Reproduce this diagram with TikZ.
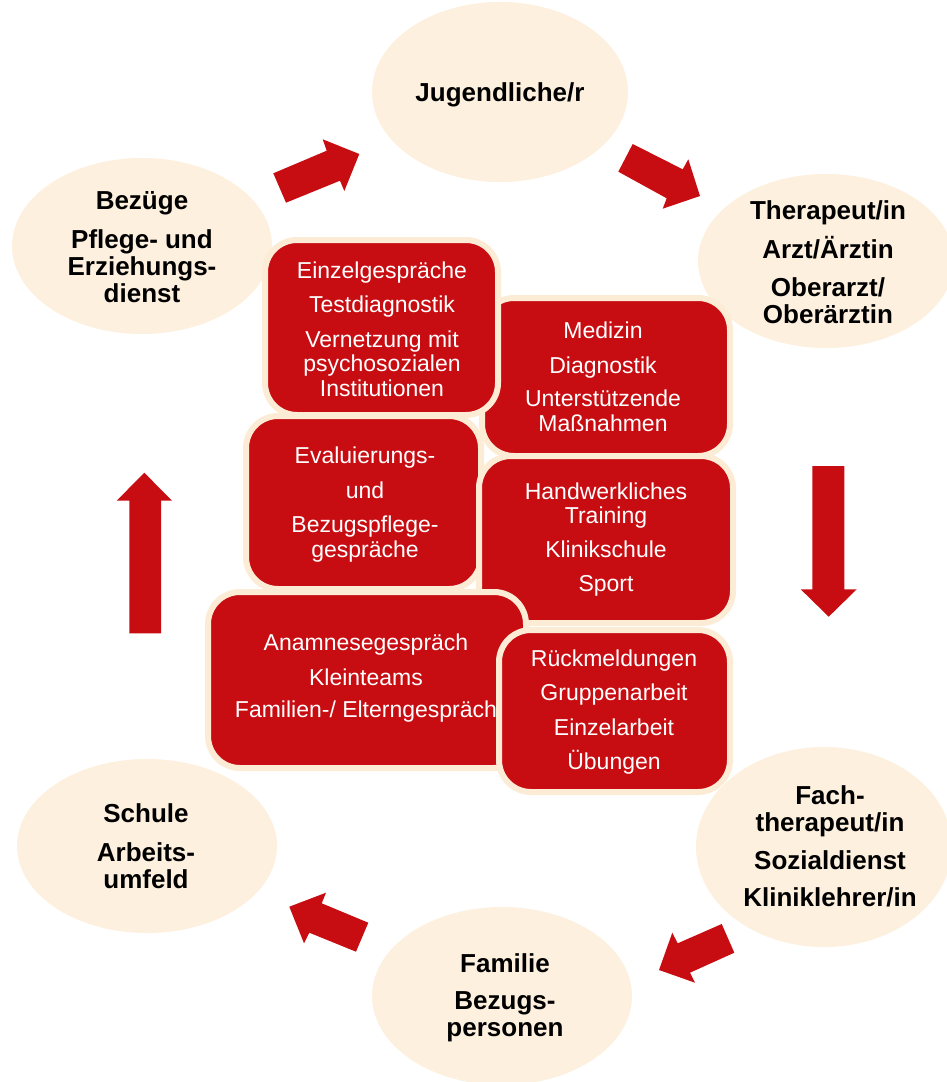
\documentclass[tikz,border=0pt]{standalone}
\usepackage{fontspec}
\setmainfont{Liberation Sans}
\usetikzlibrary{shapes.geometric}
\definecolor{boxred}{RGB}{200,13,18}
\definecolor{cream}{RGB}{253,240,222}
\definecolor{creamedge}{RGB}{252,236,214}
\begin{document}
\begin{tikzpicture}[x=1pt,y=-1pt,
  oval/.style={ellipse, fill=cream, inner sep=0pt},
  ovaltext/.style={align=center, font=\fontsize{26}{27}\selectfont\bfseries, text=black, inner sep=0pt},
  redbox/.style={rectangle, rounded corners=32pt, fill=boxred, draw=creamedge, line width=6pt, inner sep=0pt},
  boxtext/.style={align=center, font=\fontsize{23}{24.5}\selectfont, text=white, inner sep=0pt},
  blockarrow/.style={fill=boxred}]
\useasboundingbox (0,0) rectangle (947,1082);

% ellipses
\node[oval, minimum width=256pt, minimum height=180pt] (jug) at (500,92) {};
\node[oval, minimum width=260pt, minimum height=176pt] (bez) at (142,246) {};
\node[oval, minimum width=256pt, minimum height=174pt] (ther) at (826,261) {};
\node[oval, minimum width=256pt, minimum height=200pt] (fach) at (824,847) {};
\node[oval, minimum width=260pt, minimum height=174pt] (sch) at (147,846) {};
\node[oval, minimum width=260pt, minimum height=178pt] (fam) at (502,996) {};

\node[ovaltext] (jugt) at (500,95) {Jugendliche/r};
\node[ovaltext] (bezt) at (142,247) {Bezüge\\[12pt]Pflege- und\\Erziehungs-\\dienst};
\node[ovaltext] (thert) at (828,262) {Therapeut/in\\[10pt]Arzt/Ärztin\\[11pt]Oberarzt/\\Oberärztin};
\node[ovaltext] (facht) at (830,846) {Fach-\\therapeut/in\\[11pt]Sozialdienst\\[10pt]Kliniklehrer/in};
\node[ovaltext] (scht) at (146,846) {Schule\\[12pt]Arbeits-\\umfeld};
\node[ovaltext] (famt) at (505,998) {Familie\\[10pt]Bezugs-\\personen};

% block arrows
\fill[blockarrow] (273.3,173.3) -- (326.7,150.7) -- (322.7,139.3) -- (359.3,154) -- (344.3,191) -- (340,180.7) -- (286,202.7) -- cycle;
\fill[blockarrow] (632.7,144) -- (682.7,169.3) -- (688.3,159.3) -- (700,196) -- (662.7,208.7) -- (666.7,198.3) -- (618.3,171.7) -- cycle;
\fill[blockarrow] (812.3,466) -- (844.3,466) -- (844.3,589.3) -- (856.7,589.3) -- (828.7,616.7) -- (800.7,589.3) -- (812.3,589.3) -- cycle;
\fill[blockarrow] (721.7,924) -- (734.3,952.7) -- (690,972.7) -- (695,982.7) -- (659,970) -- (672.3,932.7) -- (677.7,943.3) -- cycle;
\fill[blockarrow] (356,951.7) -- (368.3,922.7) -- (321.7,903.3) -- (326,892.7) -- (289.3,906.7) -- (304,943.3) -- (309.3,932.7) -- cycle;
\fill[blockarrow] (129.3,633.3) -- (161,633.3) -- (161,500.7) -- (172,500.7) -- (144.3,472.7) -- (116.7,500.7) -- (129.3,500.7) -- cycle;

% red boxes, back to front
\node[redbox, minimum width=248pt, minimum height=158pt] (med) at (606,377) {};
\node[boxtext] (medt) at (603,377) {Medizin\\[10pt]Diagnostik\\[9pt]Unterstützende\\Maßnahmen};

\node[redbox, minimum width=233pt, minimum height=175pt] (einz) at (381.5,327.5) {};
\node[boxtext] (einzt) at (382,329) {Einzelgespräche\\[10pt]Testdiagnostik\\[10pt]Vernetzung mit\\psychosozialen\\Institutionen};

\node[redbox, minimum width=235pt, minimum height=173pt] (eval) at (363.5,502.5) {};
\node[boxtext] (evalt) at (365,504.5) {Evaluierungs-\\[10pt]und\\[10pt]Bezugspflege-\\gespräche};

\node[redbox, minimum width=254pt, minimum height=167pt] (hand) at (606,539.5) {};
\node[boxtext] (handt) at (606,539.5) {Handwerkliches\\Training\\[9pt]Klinikschule\\[10pt]Sport};

\node[redbox, minimum width=318pt, minimum height=176pt] (anam) at (367,680) {};
\node[boxtext] (anamt) at (366,678.5) {Anamnesegespräch\\[10pt]Kleinteams\\[8pt]Familien-/ Elterngespräch};

\node[redbox, minimum width=231pt, minimum height=162pt] (rueck) at (614.5,711) {};
\node[boxtext] (rueckt) at (614,712) {Rückmeldungen\\[10pt]Gruppenarbeit\\[10pt]Einzelarbeit\\[10pt]Übungen};
\end{tikzpicture}
\end{document}
